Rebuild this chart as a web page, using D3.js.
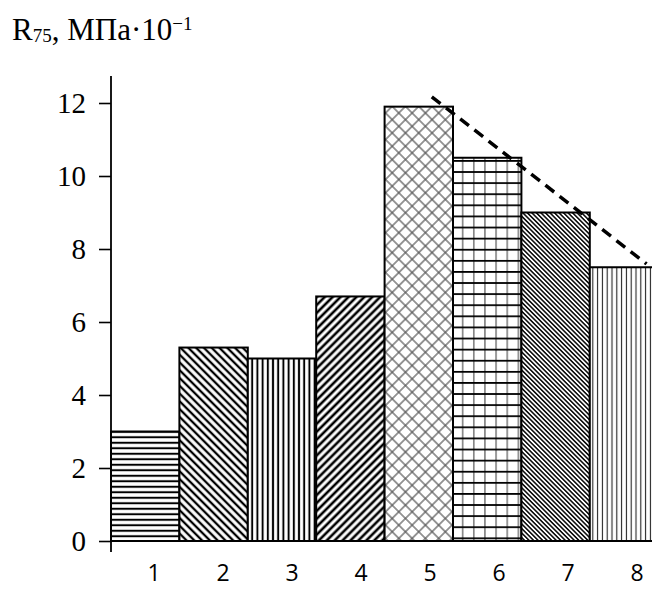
<!DOCTYPE html>
<html lang="ru">
<head>
<meta charset="utf-8">
<style>
    body { margin: 0; background: #fff; }
    svg { display: block; }
</style>
</head>
<body>
<svg width="652" height="589"></svg>
<script src="https://cdnjs.cloudflare.com/ajax/libs/d3/7.8.5/d3.min.js"></script>
<script>
// data
var categories = ["1", "2", "3", "4", "5", "6", "7", "8"];
var values = [3.0, 5.3, 5.0, 6.7, 11.9, 10.5, 9.0, 7.5];
var patterns = ["hz", "bk", "vt", "fw", "xh", "grid", "bkn", "vtn"];
var yTicks = [0, 2, 4, 6, 8, 10, 12];
// dashed trend line: position in bar units (0 = y axis), value
var trendPos = [4.69, 7.83];
var trendVal = [12.17, 7.59];

var serif = "'Liberation Serif', 'Times New Roman', serif";
var sans = "'Open Sans', 'DejaVu Sans', sans-serif";

var svg = d3.select("svg"),
    width = +svg.attr("width");

var x0 = 111, step = 68.4;
var x = d3.scaleBand().domain(categories).range([x0, x0 + step * categories.length]).padding(0);
var xPos = d3.scaleLinear().domain([0, categories.length]).range([x0, x0 + step * categories.length]);
var y = d3.scaleLinear().domain([0, 12]).range([541, 103]);
var xLab = d3.scalePoint().domain(categories).range([154, 637]);

// patterns
var defs = svg.append("defs");

function linePattern(id, size, angle, w, color, horiz) {
    var p = defs.append("pattern")
        .attr("id", id)
        .attr("patternUnits", "userSpaceOnUse")
        .attr("width", size).attr("height", size);
    if (angle) p.attr("patternTransform", "rotate(" + angle + ")");
    p.append("rect").attr("width", size).attr("height", size).attr("fill", "#fff");
    if (horiz) {
        p.append("line").attr("x1", 0).attr("x2", size).attr("y1", size / 2).attr("y2", size / 2)
            .attr("stroke", color).attr("stroke-width", w);
    } else {
        p.append("line").attr("y1", 0).attr("y2", size).attr("x1", size / 2).attr("x2", size / 2)
            .attr("stroke", color).attr("stroke-width", w);
    }
    return p;
}

linePattern("hz", 5.5, 0, 2, "#000", true);
linePattern("vt", 5.2, 0, 2, "#000", false);
linePattern("vtn", 4.8, 0, 1.1, "#222", false);
linePattern("bk", 5.5, -45, 2.3, "#000", false);
linePattern("fw", 5.6, 45, 2.6, "#000", false);
linePattern("bkn", 3.2, -45, 1.6, "#111", false);

// diagonal cross hatch
var xh = linePattern("xh", 9.4, 45, 1.2, "#555", false);
xh.append("line").attr("x1", 0).attr("x2", 9.4).attr("y1", 4.7).attr("y2", 4.7)
    .attr("stroke", "#555").attr("stroke-width", 1.2);

// grid: thick black horizontals, thin grey verticals
var g6 = defs.append("pattern")
    .attr("id", "grid")
    .attr("patternUnits", "userSpaceOnUse")
    .attr("width", 11.15).attr("height", 11.1);
g6.append("rect").attr("width", 11.15).attr("height", 11.1).attr("fill", "#fff");
g6.append("line").attr("x1", 5.5).attr("x2", 5.5).attr("y1", 0).attr("y2", 11.1)
    .attr("stroke", "#555").attr("stroke-width", 1.2);
g6.append("line").attr("x1", 0).attr("x2", 11.15).attr("y1", 5.5).attr("y2", 5.5)
    .attr("stroke", "#000").attr("stroke-width", 1.8);

// bars
svg.selectAll(".bar")
    .data(values)
    .enter()
    .append("rect")
    .attr("class", "bar")
    .attr("x", function (d, i) { return x(categories[i]); })
    .attr("y", function (d) { return y(d); })
    .attr("width", x.bandwidth())
    .attr("height", function (d) { return y(0) - y(d); })
    .attr("fill", function (d, i) { return "url(#" + patterns[i] + ")"; })
    .attr("stroke", "#000")
    .attr("stroke-width", 2);

// trend line
var trend = d3.line()
    .x(function (d, i) { return xPos(trendPos[i]); })
    .y(function (d) { return y(d); });
svg.append("path")
    .attr("d", trend(trendVal))
    .attr("fill", "none")
    .attr("stroke", "#000")
    .attr("stroke-width", 3.5)
    .attr("stroke-dasharray", "11,7");

// y axis
var yAxis = svg.append("g")
    .attr("transform", "translate(" + x0 + ",0)")
    .call(d3.axisLeft(y).tickValues(yTicks).tickSize(12).tickPadding(13));
yAxis.attr("font-family", serif).attr("font-size", 29);
yAxis.select(".domain").remove();
yAxis.selectAll(".tick line").attr("stroke", "#000").attr("stroke-width", 1.6);
yAxis.selectAll(".tick text")
    .attr("fill", "#000")
    .style("font-family", serif)
    .style("font-size", "29px");

svg.append("line")
    .attr("x1", x0).attr("x2", x0)
    .attr("y1", y(0) + 11).attr("y2", y(12.74))
    .attr("stroke", "#000").attr("stroke-width", 1.8);

// x axis line
svg.append("line")
    .attr("x1", x0).attr("x2", width)
    .attr("y1", y(0)).attr("y2", y(0))
    .attr("stroke", "#000").attr("stroke-width", 2);

// x labels
svg.selectAll(".xlab")
    .data(categories)
    .enter()
    .append("text")
    .attr("class", "xlab")
    .attr("x", function (d) { return xLab(d); })
    .attr("y", 581)
    .attr("text-anchor", "middle")
    .style("font-family", sans)
    .style("font-size", "23px")
    .attr("fill", "#000")
    .text(function (d) { return d; });

// title
var title = svg.append("text")
    .attr("x", 12)
    .attr("y", 40)
    .style("font-family", serif)
    .style("font-size", "31px")
    .attr("fill", "#000");
title.append("tspan").text("R");
title.append("tspan").style("font-size", "19px").attr("dy", 2).text("75");
title.append("tspan").attr("dy", -2).text(", МПа·10");
title.append("tspan").style("font-size", "19px").attr("dy", -10).text("−1");
</script>
</body>
</html>
